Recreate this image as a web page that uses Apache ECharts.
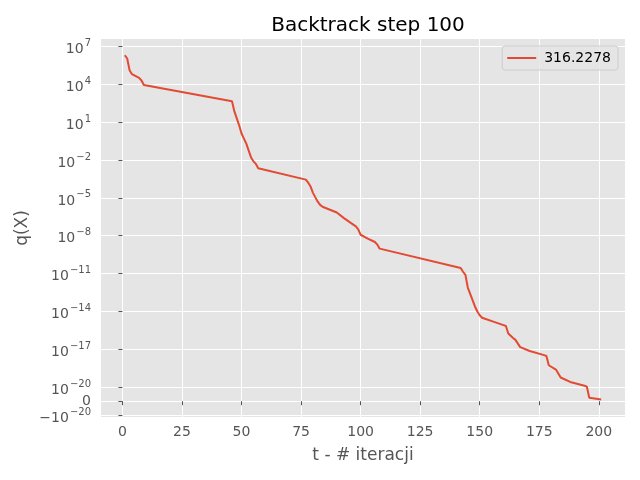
<!DOCTYPE html>
<html>
  <head>
    <meta charset="utf-8" />
  </head>
  <body style="height: 100%; margin: 0; overflow: hidden">
    <div id="container" style="width: 640px; height: 480px"></div>
    <script type="text/javascript" src="https://cdn.jsdelivr.net/npm/echarts@6/dist/echarts.min.js"></script>
    <script type="text/javascript">
      // iteration numbers at the corners of the curve and q(X) there
      const iterations = [
        1, 2, 3, 4, 7, 8, 9, 46, 47, 48, 49, 50, 51, 52, 53, 54, 55, 56, 57,
        77, 78, 79, 80, 81, 82, 83, 84, 90, 93, 96, 98, 99, 100, 103, 106, 107, 108,
        142, 143, 144, 145, 146, 147, 148, 149, 150, 151, 156, 160, 161, 162, 164, 165, 167,
        171, 177, 178, 179, 182, 184, 188, 194, 195, 196, 201,
      ]
      const qValues = [
        2.0e6, 1.1e6, 1.3e5, 6.3e4, 3.2e4, 2.0e4, 8.9e3, 4.6e2, 71, 20, 5.6, 1.26, 0.5, 0.2, 0.056, 0.016, 0.0079, 0.005, 0.0022,
        2.8e-4, 1.6e-4, 7.9e-5, 2.5e-5, 1.1e-5, 5.0e-6, 2.8e-6, 2.0e-6, 6.9e-7, 2.5e-7, 1.0e-7, 5.5e-8, 3.2e-8, 1.2e-8, 5.9e-9, 3.2e-9, 2.0e-9, 9.5e-10,
        2.8e-11, 1.4e-11, 7.9e-12, 7.9e-13, 2.5e-13, 7.9e-14, 2.5e-14, 1.0e-14, 5.0e-15, 3.2e-15, 1.5e-15, 8.3e-16, 7.1e-16, 1.8e-16, 7.9e-17, 5.6e-17, 1.5e-17,
        7.4e-18, 3.5e-18, 3.0e-18, 5.5e-19, 2.5e-19, 5.9e-20, 2.6e-20, 1.3e-20, 1.1e-20, 2.4e-21, 1.2e-21,
      ]
      const seriesName = '316.2278'
      const xTicks = [0, 25, 50, 75, 100, 125, 150, 175, 200]
      // listed so that the first and last labels are not next to a close one
      // (otherwise echarts hides one of the three tightly packed bottom labels)
      const yTicks = [-1e-20, 1e-20, 1e7, 1e4, 1e1, 1e-2, 1e-5, 1e-8, 1e-11, 1e-14, 1e-17, 0]

      // symlog like matplotlib: linthresh 1e-20, linscale 1, base 10
      const LINTHRESH = 1e-20
      const LINSCALE = 1 / (1 - 1 / 10)
      function symlog(v) {
        const a = Math.abs(v)
        if (a <= LINTHRESH) return (v / LINTHRESH) * LINSCALE
        return Math.sign(v) * (LINSCALE + Math.log10(a / LINTHRESH))
      }

      function yLabel(val) {
        const i = yTicks.findIndex((t) => Math.abs(symlog(t) - val) < 1e-6)
        if (i < 0) return ''
        const v = yTicks[i]
        if (v === 0) return '{z|0}'
        const exp = Math.round(Math.log10(Math.abs(v)))
        const sign = v < 0 ? '\u2212' : ''
        return '{b|' + sign + '10}{s|' + String(exp).replace('-', '\u2212') + '}'
      }

      const yTickPos = yTicks.map(symlog)
      const lineData = iterations.map((t, i) => [t, symlog(qValues[i])])

      const FONT = 'DejaVu Sans'
      const dom = document.getElementById('container')
      const myChart = echarts.init(dom, null, { renderer: 'canvas' })

      const option = {
        animation: false,
        textStyle: { fontFamily: FONT },
        title: {
          text: 'Backtrack step 100',
          left: 363,
          top: 11,
          textAlign: 'center',
          textStyle: { fontFamily: FONT, fontSize: 20, fontWeight: 'normal', color: '#000' },
        },
        legend: {
          right: 22,
          top: 46,
          padding: [5, 7, 5, 5],
          itemWidth: 29,
          itemHeight: 2,
          itemGap: 10,
          backgroundColor: 'rgba(229,229,229,0.8)',
          borderColor: '#cccccc',
          borderWidth: 1,
          borderRadius: 3,
          data: [{ name: seriesName, icon: 'rect' }],
          textStyle: { fontFamily: FONT, fontSize: 14, color: '#000', padding: [0, 0, 0, 3] },
        },
        grid: {
          left: 101,
          right: 15,
          top: 39,
          bottom: 63,
          show: true,
          backgroundColor: '#E5E5E5',
          borderWidth: 0,
        },
        xAxis: {
          type: 'value',
          min: -9,
          max: 211,
          name: 't - # iteracji',
          nameLocation: 'middle',
          nameGap: 30,
          nameTextStyle: { fontFamily: FONT, fontSize: 17, color: '#555555' },
          axisLine: { show: false },
          axisTick: { show: true, length: 4, customValues: xTicks, lineStyle: { color: '#555555' } },
          axisLabel: {
            customValues: xTicks,
            margin: 8,
            fontFamily: FONT,
            fontSize: 14,
            color: '#555555',
          },
          splitLine: { show: true, lineStyle: { color: '#ffffff', width: 1 } },
        },
        yAxis: {
          type: 'value',
          min: -1.25,
          max: 28.7,
          name: 'q(X)',
          nameLocation: 'middle',
          nameGap: 70,
          nameMoveOverlap: false,
          nameTextStyle: { fontFamily: FONT, fontSize: 17, color: '#555555' },
          axisLine: { show: false },
          axisTick: { show: true, length: 4, customValues: yTickPos, lineStyle: { color: '#555555' } },
          axisLabel: {
            customValues: yTickPos,
            hideOverlap: false,
            margin: 10,
            formatter: yLabel,
            rich: {
              z: { fontFamily: FONT, fontSize: 14, color: '#555555' },
              b: { fontFamily: FONT, fontSize: 14, color: '#555555', padding: [6, 0, 0, 0] },
              s: { fontFamily: FONT, fontSize: 10, color: '#555555', verticalAlign: 'bottom', padding: [0, 0, 8, 1] },
            },
          },
          splitLine: { show: true, lineStyle: { color: '#ffffff', width: 1 } },
        },
        series: [
          {
            name: seriesName,
            type: 'line',
            data: lineData,
            showSymbol: false,
            color: '#E24A33',
            lineStyle: { color: '#E24A33', width: 2 },
          },
        ],
      }

      myChart.setOption(option)
      window.addEventListener('resize', myChart.resize)
    </script>
  </body>
</html>
